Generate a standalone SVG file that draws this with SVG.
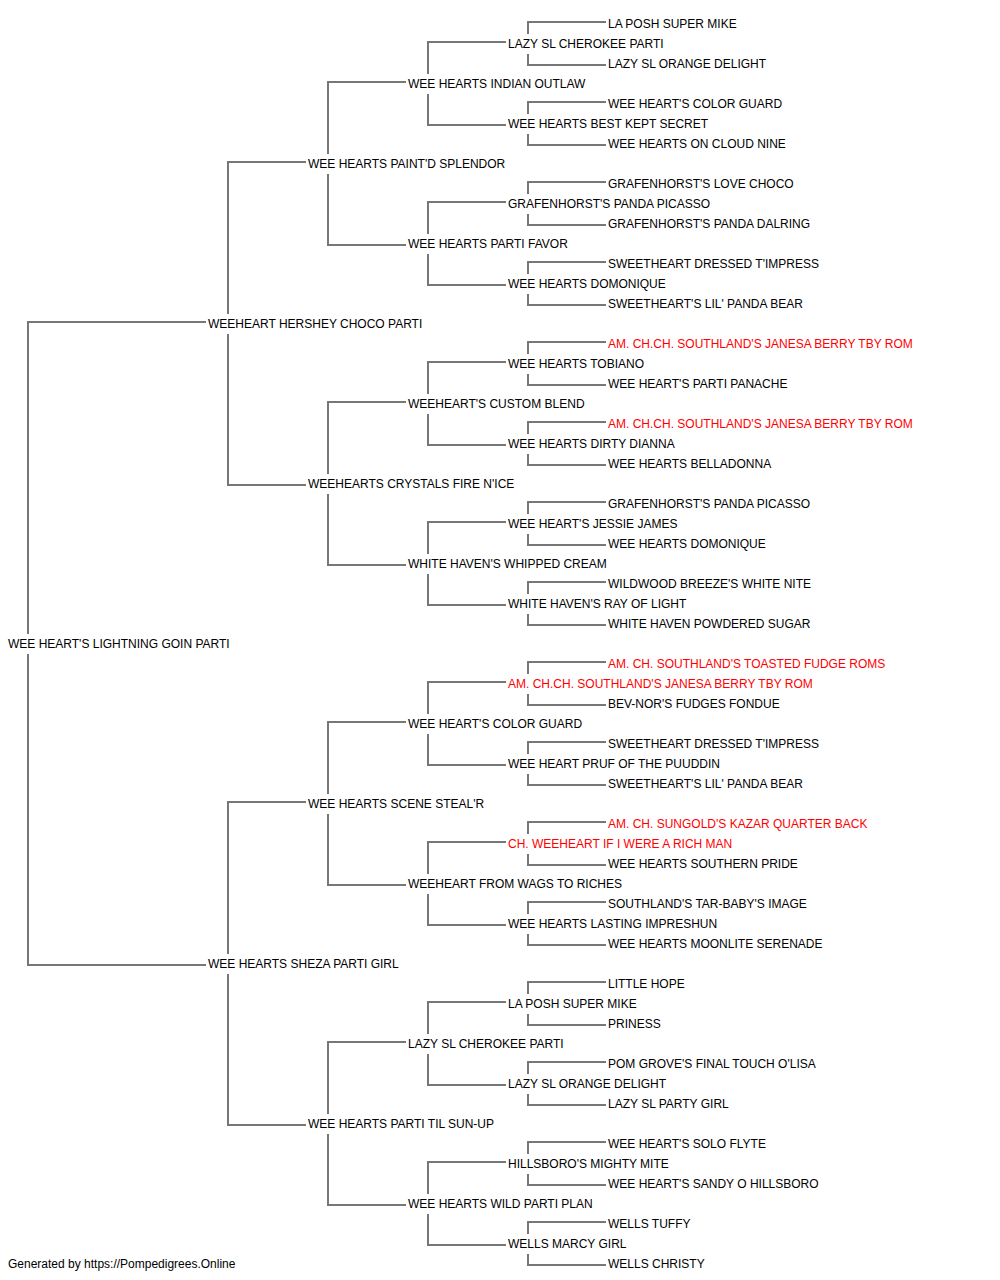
<svg xmlns="http://www.w3.org/2000/svg" width="1000" height="1280" viewBox="0 0 1000 1280">
<style>
text{font-family:"Liberation Sans",Arial,sans-serif;font-size:12px;fill:#000}
text.r{fill:#ff0000}
.c path{fill:none;stroke:#777777;stroke-width:2}
</style>
<rect width="1000" height="1280" fill="#fff"/>
<g id="connectors" class="c">
<path d="M206,322H28V634M28,654V965H206"/>
<path d="M306,162H228V314M228,334V485H306"/>
<path d="M306,802H228V954M228,974V1125H306"/>
<path d="M406,82H328V154M328,174V245H406"/>
<path d="M406,402H328V474M328,494V565H406"/>
<path d="M406,722H328V794M328,814V885H406"/>
<path d="M406,1042H328V1114M328,1134V1205H406"/>
<path d="M506,42H428V74M428,94V125H506"/>
<path d="M506,202H428V234M428,254V285H506"/>
<path d="M506,362H428V394M428,414V445H506"/>
<path d="M506,522H428V554M428,574V605H506"/>
<path d="M506,682H428V714M428,734V765H506"/>
<path d="M506,842H428V874M428,894V925H506"/>
<path d="M506,1002H428V1034M428,1054V1085H506"/>
<path d="M506,1162H428V1194M428,1214V1245H506"/>
<path d="M606,22H528V34M528,54V65H606"/>
<path d="M606,102H528V114M528,134V145H606"/>
<path d="M606,182H528V194M528,214V225H606"/>
<path d="M606,262H528V274M528,294V305H606"/>
<path d="M606,342H528V354M528,374V385H606"/>
<path d="M606,422H528V434M528,454V465H606"/>
<path d="M606,502H528V514M528,534V545H606"/>
<path d="M606,582H528V594M528,614V625H606"/>
<path d="M606,662H528V674M528,694V705H606"/>
<path d="M606,742H528V754M528,774V785H606"/>
<path d="M606,822H528V834M528,854V865H606"/>
<path d="M606,902H528V914M528,934V945H606"/>
<path d="M606,982H528V994M528,1014V1025H606"/>
<path d="M606,1062H528V1074M528,1094V1105H606"/>
<path d="M606,1142H528V1154M528,1174V1185H606"/>
<path d="M606,1222H528V1234M528,1254V1265H606"/>
</g>
<g id="n0"><text x="8" y="648">WEE HEART'S LIGHTNING GOIN PARTI</text></g>
<g id="n1"><text x="208" y="328">WEEHEART HERSHEY CHOCO PARTI</text></g>
<g id="n2"><text x="208" y="968">WEE HEARTS SHEZA PARTI GIRL</text></g>
<g id="n3"><text x="308" y="168">WEE HEARTS PAINT'D SPLENDOR</text></g>
<g id="n4"><text x="308" y="488">WEEHEARTS CRYSTALS FIRE N'ICE</text></g>
<g id="n5"><text x="308" y="808">WEE HEARTS SCENE STEAL'R</text></g>
<g id="n6"><text x="308" y="1128">WEE HEARTS PARTI TIL SUN-UP</text></g>
<g id="n7"><text x="408" y="88">WEE HEARTS INDIAN OUTLAW</text></g>
<g id="n8"><text x="408" y="248">WEE HEARTS PARTI FAVOR</text></g>
<g id="n9"><text x="408" y="408">WEEHEART'S CUSTOM BLEND</text></g>
<g id="n10"><text x="408" y="568">WHITE HAVEN'S WHIPPED CREAM</text></g>
<g id="n11"><text x="408" y="728">WEE HEART'S COLOR GUARD</text></g>
<g id="n12"><text x="408" y="888">WEEHEART FROM WAGS TO RICHES</text></g>
<g id="n13"><text x="408" y="1048">LAZY SL CHEROKEE PARTI</text></g>
<g id="n14"><text x="408" y="1208">WEE HEARTS WILD PARTI PLAN</text></g>
<g id="n15"><text x="508" y="48">LAZY SL CHEROKEE PARTI</text></g>
<g id="n16"><text x="508" y="128">WEE HEARTS BEST KEPT SECRET</text></g>
<g id="n17"><text x="508" y="208">GRAFENHORST'S PANDA PICASSO</text></g>
<g id="n18"><text x="508" y="288">WEE HEARTS DOMONIQUE</text></g>
<g id="n19"><text x="508" y="368">WEE HEARTS TOBIANO</text></g>
<g id="n20"><text x="508" y="448">WEE HEARTS DIRTY DIANNA</text></g>
<g id="n21"><text x="508" y="528">WEE HEART'S JESSIE JAMES</text></g>
<g id="n22"><text x="508" y="608">WHITE HAVEN'S RAY OF LIGHT</text></g>
<g id="n23"><text class="r" x="508" y="688">AM. CH.CH. SOUTHLAND'S JANESA BERRY TBY ROM</text></g>
<g id="n24"><text x="508" y="768">WEE HEART PRUF OF THE PUUDDIN</text></g>
<g id="n25"><text class="r" x="508" y="848">CH. WEEHEART IF I WERE A RICH MAN</text></g>
<g id="n26"><text x="508" y="928">WEE HEARTS LASTING IMPRESHUN</text></g>
<g id="n27"><text x="508" y="1008">LA POSH SUPER MIKE</text></g>
<g id="n28"><text x="508" y="1088">LAZY SL ORANGE DELIGHT</text></g>
<g id="n29"><text x="508" y="1168">HILLSBORO'S MIGHTY MITE</text></g>
<g id="n30"><text x="508" y="1248">WELLS MARCY GIRL</text></g>
<g id="n31"><text x="608" y="28">LA POSH SUPER MIKE</text></g>
<g id="n32"><text x="608" y="68">LAZY SL ORANGE DELIGHT</text></g>
<g id="n33"><text x="608" y="108">WEE HEART'S COLOR GUARD</text></g>
<g id="n34"><text x="608" y="148">WEE HEARTS ON CLOUD NINE</text></g>
<g id="n35"><text x="608" y="188">GRAFENHORST'S LOVE CHOCO</text></g>
<g id="n36"><text x="608" y="228">GRAFENHORST'S PANDA DALRING</text></g>
<g id="n37"><text x="608" y="268">SWEETHEART DRESSED T'IMPRESS</text></g>
<g id="n38"><text x="608" y="308">SWEETHEART'S LIL' PANDA BEAR</text></g>
<g id="n39"><text class="r" x="608" y="348">AM. CH.CH. SOUTHLAND'S JANESA BERRY TBY ROM</text></g>
<g id="n40"><text x="608" y="388">WEE HEART'S PARTI PANACHE</text></g>
<g id="n41"><text class="r" x="608" y="428">AM. CH.CH. SOUTHLAND'S JANESA BERRY TBY ROM</text></g>
<g id="n42"><text x="608" y="468">WEE HEARTS BELLADONNA</text></g>
<g id="n43"><text x="608" y="508">GRAFENHORST'S PANDA PICASSO</text></g>
<g id="n44"><text x="608" y="548">WEE HEARTS DOMONIQUE</text></g>
<g id="n45"><text x="608" y="588">WILDWOOD BREEZE'S WHITE NITE</text></g>
<g id="n46"><text x="608" y="628">WHITE HAVEN POWDERED SUGAR</text></g>
<g id="n47"><text class="r" x="608" y="668">AM. CH. SOUTHLAND'S TOASTED FUDGE ROMS</text></g>
<g id="n48"><text x="608" y="708">BEV-NOR'S FUDGES FONDUE</text></g>
<g id="n49"><text x="608" y="748">SWEETHEART DRESSED T'IMPRESS</text></g>
<g id="n50"><text x="608" y="788">SWEETHEART'S LIL' PANDA BEAR</text></g>
<g id="n51"><text class="r" x="608" y="828">AM. CH. SUNGOLD'S KAZAR QUARTER BACK</text></g>
<g id="n52"><text x="608" y="868">WEE HEARTS SOUTHERN PRIDE</text></g>
<g id="n53"><text x="608" y="908">SOUTHLAND'S TAR-BABY'S IMAGE</text></g>
<g id="n54"><text x="608" y="948">WEE HEARTS MOONLITE SERENADE</text></g>
<g id="n55"><text x="608" y="988">LITTLE HOPE</text></g>
<g id="n56"><text x="608" y="1028">PRINESS</text></g>
<g id="n57"><text x="608" y="1068">POM GROVE'S FINAL TOUCH O'LISA</text></g>
<g id="n58"><text x="608" y="1108">LAZY SL PARTY GIRL</text></g>
<g id="n59"><text x="608" y="1148">WEE HEART'S SOLO FLYTE</text></g>
<g id="n60"><text x="608" y="1188">WEE HEART'S SANDY O HILLSBORO</text></g>
<g id="n61"><text x="608" y="1228">WELLS TUFFY</text></g>
<g id="n62"><text x="608" y="1268">WELLS CHRISTY</text></g>
<text x="8" y="1268">Generated by https://Pompedigrees.Online</text>
</svg>
